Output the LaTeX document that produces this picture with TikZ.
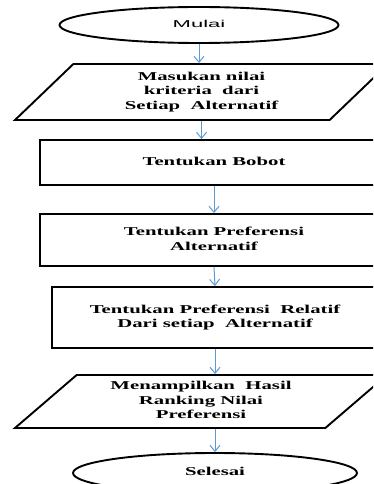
\documentclass[tikz,border=0pt]{standalone}
\usepackage{fontspec}
\setmainfont{Liberation Serif}
\setsansfont{Liberation Sans}
\usetikzlibrary{shapes.geometric,arrows.meta}
\definecolor{biru}{RGB}{91,155,213}
% teks yang dilebarkan mendatar
\newcommand{\lebar}[2][1.73]{\scalebox{#1}[1]{\begin{tabular}{@{}c@{}}#2\end{tabular}}}

\begin{document}
\begin{tikzpicture}[x=1pt, y=-1pt,
		garis/.style={draw, line width=1.9pt, inner sep=0pt},
		oval/.style={garis, ellipse},
		kotak/.style={garis, rectangle},
		jajar/.style={garis, trapezium, trapezium stretches body},
		panah/.style={draw=biru, line width=1pt, -{Straight Barb[length=6pt, width=10pt]}},
		font=\fontsize{12}{14.5}\selectfont\bfseries]
	\useasboundingbox (0,0) rectangle (373,484);
	\clip (0,0) rectangle (373,484);

	\node[oval, minimum width=279pt, minimum height=36pt] (mulai) at (199,25) {\lebar[2.2]{\sffamily\mdseries\fontsize{10}{12}\selectfont Mulai}};
	\node[jajar, trapezium left angle=36.7, trapezium right angle=143.3, minimum width=373pt, minimum height=56pt] (masukan) at (201.5,92) {\lebar{Masukan nilai\\ kriteria~ dari\\ Setiap~ Alternatif}};
	\node[kotak, minimum width=348pt, minimum height=45pt] (bobot) at (214,162.5) {\lebar{Tentukan Bobot}};
	\node[kotak, minimum width=348pt, minimum height=52pt] (prefalt) at (214,240) {\lebar{Tentukan Preferensi\\ Alternatif}};
	\node[kotak, minimum width=326pt, minimum height=61pt] (prefrel) at (215,317.5) {\lebar{Tentukan Preferensi~ Relatif\\ Dari setiap~ Alternatif}};
	\node[jajar, trapezium left angle=35.2, trapezium right angle=144.8, minimum width=372pt, minimum height=53pt] (hasil) at (201,401.5) {\lebar{Menampilkan~ Hasil\\ Ranking Nilai\\ Preferensi}};
	\node[oval, minimum width=284pt, minimum height=40pt] (selesai) at (215,473) {\lebar{Selesai}};

	\draw[panah] (mulai.south) -- (mulai.south |- masukan.north);
	\draw[panah] (masukan.south) -- (masukan.south |- bobot.north);
	\draw[panah] (bobot.south) -- (prefalt.north);
	\draw[panah] (prefalt.south) -- (prefrel.north);
	\draw[panah] (prefrel.south) -- (prefrel.south |- hasil.north);
	\draw[panah] (selesai.north |- hasil.south) -- (selesai.north);
\end{tikzpicture}
\end{document}
